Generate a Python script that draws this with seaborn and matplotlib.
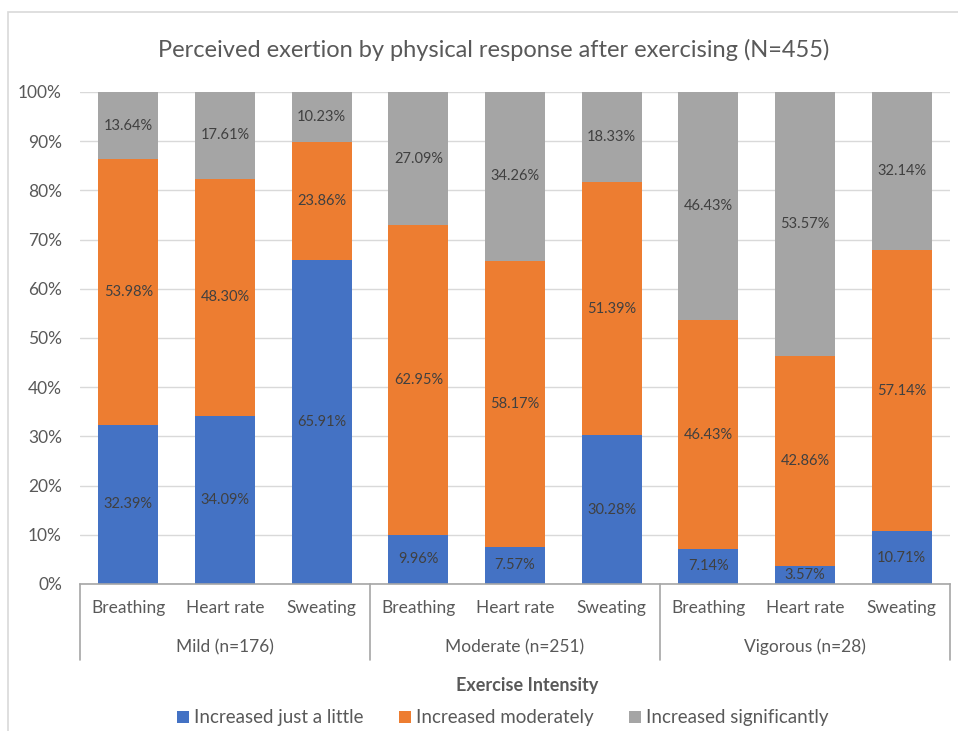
import matplotlib
matplotlib.use("Agg")
import matplotlib.pyplot as plt
from matplotlib.patches import Rectangle, Patch
from matplotlib.lines import Line2D
import seaborn as sns
import pandas as pd
import numpy as np

sns.set_style("white")
plt.rcParams['font.family'] = ['Lato', 'DejaVu Sans']

groups = ["Mild (n=176)", "Moderate (n=251)", "Vigorous (n=28)"]
responses = ["Breathing", "Heart rate", "Sweating"]
series_names = ["Increased just a little", "Increased moderately", "Increased significantly"]

little = [32.39, 34.09, 65.91, 9.96, 7.57, 30.28, 7.14, 3.57, 10.71]
moderately = [53.98, 48.30, 23.86, 62.95, 58.17, 51.39, 46.43, 42.86, 57.14]
significantly = [13.64, 17.61, 10.23, 27.09, 34.26, 18.33, 46.43, 53.57, 32.14]

colors = ["#4472C4", "#ED7D31", "#A5A5A5"]
text_grey = "#595959"
label_col = "#404040"

keys = [f"{g}|{r}" for g in groups for r in responses]
df = pd.DataFrame({"key": keys, "little": little, "moderately": moderately,
                   "significantly": significantly})
df["c1"] = df["little"]
df["c2"] = df["little"] + df["moderately"]
df["c3"] = df["c2"] + df["significantly"]

fig = plt.figure(figsize=(9.58, 7.31), dpi=100)
ax = fig.add_axes([80 / 958, 1 - 584 / 731, (950 - 80) / 958, (584 - 92) / 731])

# stacked bars: draw cumulative totals from top segment down
for col, c in zip(["c3", "c2", "c1"], colors[::-1]):
    sns.barplot(data=df, x="key", y=col, order=keys, color=c, width=0.62,
                saturation=1, ax=ax, edgecolor="none", linewidth=0, zorder=2)

ax.set_ylim(0, 100)
ax.set_xlim(-0.5, len(keys) - 0.5)
ax.set_yticks(np.arange(0, 101, 10))
ax.set_yticklabels([f"{v}%" for v in range(0, 101, 10)], color=text_grey, fontsize=12.5)
ax.tick_params(axis="y", length=0, pad=13)
ax.yaxis.grid(True, color="#D9D9D9", linewidth=1, zorder=0)
ax.set_axisbelow(True)
for s in ["top", "right", "left"]:
    ax.spines[s].set_visible(False)
ax.spines["bottom"].set_color("#A6A6A6")
ax.spines["bottom"].set_linewidth(1.2)
ax.set_xticks([])
ax.set_xlabel("")
ax.set_ylabel("")

# segment value labels
for i in range(len(keys)):
    bottoms = [0, little[i], little[i] + moderately[i]]
    for vals, b in zip([little, moderately, significantly], bottoms):
        v = vals[i]
        ax.text(i, b + v / 2, f"{v:.2f}%", ha="center", va="center",
                fontsize=10.5, color=label_col, zorder=5)

# two-level category axis
trans = ax.get_xaxis_transform()
sep_len = (660 - 584) / (584 - 92)
for i, r in enumerate(responses * 3):
    ax.text(i, -(608 - 584) / (584 - 92), r, transform=trans, ha="center",
            va="center", fontsize=12.5, color=text_grey)
for gi, g in enumerate(groups):
    ax.text(gi * 3 + 1, -(647 - 584) / (584 - 92), g, transform=trans,
            ha="center", va="center", fontsize=12.5, color=text_grey)
for xb in [-0.5, 2.5, 5.5, 8.5]:
    ax.add_line(Line2D([xb, xb], [0, -sep_len], transform=trans,
                       color="#A6A6A6", linewidth=1.2, clip_on=False))

fig.text(527 / 958, 1 - 686 / 731, "Exercise Intensity",
         ha="center", va="center", fontsize=13, fontweight="bold", color=text_grey)

fig.text(494 / 958, 1 - 50 / 731,
         "Perceived exertion by physical response after exercising (N=455)",
         ha="center", va="center", fontsize=17, color=text_grey)

handles = [Patch(facecolor=c, edgecolor="none") for c in colors]
fig.legend(handles, series_names, loc="center", bbox_to_anchor=(503 / 958, 1 - 718 / 731),
           ncol=3, frameon=False, fontsize=13.5, handlelength=0.6, handleheight=0.6,
           handletextpad=0.3, columnspacing=1.9, labelcolor=text_grey)

# chart frame
fig.add_artist(Rectangle((8 / 958, -0.01), 1.1, 1 - 12 / 731 + 0.01,
                         transform=fig.transFigure, fill=False,
                         edgecolor="#D9D9D9", linewidth=1.2))

fig.savefig("out.png", dpi=100)
